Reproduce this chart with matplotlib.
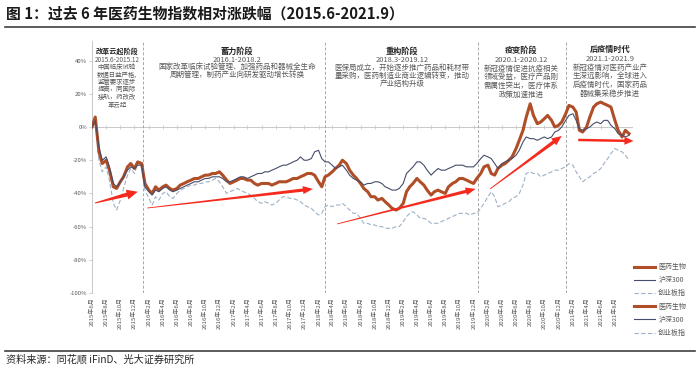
import numpy as np
import pandas as pd
import matplotlib
matplotlib.use('Agg')
import matplotlib.pyplot as plt
from matplotlib.lines import Line2D
from matplotlib.patches import Polygon
from matplotlib.transforms import IdentityTransform
from matplotlib.dates import date2num

plt.rcParams['font.family'] = ['Noto Sans CJK SC', 'DejaVu Sans']
plt.rcParams['axes.unicode_minus'] = False

# ---------------- data (semi-monthly, % change since 2015-06) ----------------
dates = pd.date_range('2015-06-01', '2021-10-01', freq='SMS')

yiyao = [0, 6, -15, -22, -20, -26, -36, -37, -33, -30, -24, -22, -25, -21, -22, -34, -38, -40, -36, -38, -36, -35, -37, -38, -37,
         -35, -34, -33, -32, -31, -31, -30, -29, -29, -28, -28, -27, -29, -32, -34, -33, -32, -31, -31, -32, -32, -34, -35, -34, -34,
         -34, -35, -34, -33, -33, -33, -32, -31, -31, -30, -29, -28, -28, -29, -33, -36, -30, -29, -27, -25, -23, -20, -22, -26, -29, -31,
         -34, -37, -39, -42, -42, -44, -43, -45, -47, -49, -50, -49, -46, -39, -36, -34, -31, -33, -35, -38, -41, -39, -38, -39, -40, -36, -34, -33,
         -31, -31, -32, -33, -34, -31, -28, -24, -23, -28, -29, -25, -23, -22, -20, -18, -13, -8, -2, 6, 14, 7, 2, 3, 5,
         7, 4, 0, 1, 3, 8, 13, 12, 9, -2, -3, 0, 6, 12, 14, 15, 14, 13, 12, 4, -2, -6, -2, -4]

hs300 = [0, 4, -12, -20, -18, -24, -34, -36, -33, -30, -26, -24, -25, -23, -23, -36, -39, -41, -38, -39, -37, -36, -38, -39, -38,
         -37, -36, -35, -34, -33, -33, -32, -31, -31, -30, -30, -30, -31, -33, -33, -32, -31, -30, -30, -31, -30, -29, -28, -28, -27,
         -27, -26, -25, -24, -23, -23, -22, -21, -20, -18, -20, -20, -19, -15, -14, -19, -21, -21, -23, -25, -24, -23, -26, -29, -31, -32,
         -33, -35, -34, -34, -33, -33, -34, -36, -37, -38, -38, -37, -34, -28, -26, -24, -21, -21, -23, -26, -29, -27, -25, -26, -26, -25, -24, -23,
         -23, -23, -24, -24, -24, -22, -19, -17, -18, -19, -22, -25, -22, -21, -20, -19, -17, -14, -9, -6, -7, -7, -8, -7, -6,
         -7, -6, -3, -2, 0, 4, 7, 8, 4, -1, -2, -1, 0, 2, 3, 2, 4, 4, 1, -1, -4, -5, -6, -5]

cyb = [0, 5, -20, -27, -24, -32, -46, -50, -44, -37, -29, -25, -28, -22, -23, -38, -43, -47, -42, -44, -40, -39, -42, -43, -40,
       -38, -37, -36, -35, -35, -34, -34, -33, -33, -32, -31, -33, -36, -40, -39, -38, -37, -38, -39, -40, -41, -43, -45, -46, -45,
       -46, -47, -46, -44, -42, -42, -43, -43, -44, -45, -47, -48, -49, -51, -53, -52, -48, -47, -48, -47, -47, -46, -48, -50, -52, -52,
       -55, -58, -58, -59, -59, -60, -60, -61, -61, -61, -60, -60, -57, -54, -52, -51, -53, -55, -55, -56, -58, -58, -58, -57, -56, -55, -54, -53,
       -52, -52, -52, -53, -52, -52, -49, -46, -42, -39, -42, -48, -47, -46, -45, -43, -42, -40, -35, -28, -27, -28, -28, -30, -29,
       -28, -27, -26, -26, -25, -24, -22, -23, -27, -30, -33, -31, -30, -28, -27, -25, -22, -19, -16, -13, -14, -15, -17, -20]

series_names = ['医药生物', '沪深300', '创业板指']

tick_months = pd.date_range('2015-06-01', '2021-08-01', freq='2MS')
tick_labels = [f'{d.year}年{d.month}月' for d in tick_months]
ytick_vals = [-100, -80, -60, -40, -20, 0, 20, 40]
ytick_labels = [f'{v}%' for v in ytick_vals]

phase_bounds = ['2016-01-08', '2018-03-01', '2019-12-20', '2021-01-04']

phases = [
    ['改革云起阶段', '2015.6-2015.12', '中国临床试验', '数据日益严格,', '监管要求逐步', '提高，同国际', '接轨，药改改', '革云起'],
    ['蓄力阶段', '2016.1-2018.2', '国家改革临床试验管理、加强药品和器械全生命', '周期管理，制药产业向研发驱动增长转换'],
    ['重构阶段', '2018.3-2019.12', '医保局成立，开始逐步推广药品和耗材带', '量采购，医药制造业商业逻辑转变，推动', '产业结构升级'],
    ['疫变阶段', '2020.1-2020.12', '新冠疫情促进抗疫相关', '领域受益，医疗产品刚', '需属性突出，医疗体系', '政策加速推进'],
    ['后疫情时代', '2021.1-2021.9', '新冠疫情对医药产业产', '生深远影响，全球进入', '后疫情时代，国家药品', '器械集采稳步推进'],
]

# arrows: (start date, start %, end date, end %)
arrows = [
    ('2015-06-14', -45.8, '2015-12-15', -39.0),
    ('2016-01-25', -48.8, '2018-01-08', -37.3),
    ('2018-04-22', -58.4, '2019-12-10', -37.3),
    ('2020-02-10', -37.3, '2020-12-15', -5.4),
    ('2021-02-24', -7.8, '2021-10-20', -8.4),
]

# ---------------- figure ----------------
W, H = 700, 367
fig = plt.figure(figsize=(W / 100, H / 100), dpi=100)
ax_top, ax_bot, ax_l, ax_r = 40.7, 293, 92, 633
ax = fig.add_axes([ax_l / W, 1 - ax_bot / H, (ax_r - ax_l) / W, (ax_bot - ax_top) / H])

c_yy, c_hs, c_cy = '#B04E28', '#454D6B', '#9DB2C6'
ax.plot(dates, cyb, color=c_cy, lw=0.8, ls=(0, (4, 2)), zorder=2)
ax.plot(dates, yiyao, color=c_yy, lw=2.2, zorder=3, solid_joinstyle='round')
ax.plot(dates, hs300, color=c_hs, lw=0.8, zorder=4)

ax.axhline(0, color='#BFBFBF', lw=0.6, zorder=1)
ax.plot(tick_months, [0] * len(tick_months), ls='none', marker='|', ms=2.5, mew=0.5, color='#BFBFBF', zorder=1)
for d in phase_bounds:
    ax.axvline(pd.Timestamp(d), color='#A6A6A6', lw=0.7, ls=(0, (3, 2)), zorder=1)

ax.set_xlim(pd.Timestamp('2015-06-01'), pd.Timestamp('2021-10-18'))
ax.set_ylim(-100, 52)
ax.set_yticks(ytick_vals)
ax.set_yticklabels(ytick_labels)
ax.set_xticks(tick_months)
ax.set_xticklabels(tick_labels, rotation=90)
ax.tick_params(axis='x', length=0, pad=3, labelsize=4.3, labelcolor='#595959')
ax.tick_params(axis='y', length=2, width=0.5, color='#BFBFBF', pad=1.5, labelsize=4.3, labelcolor='#595959')
for s in ['top', 'right', 'bottom']:
    ax.spines[s].set_visible(False)
ax.spines['left'].set_color('#BFBFBF')
ax.spines['left'].set_linewidth(0.6)

# legend (duplicated set as in the reference)
handles = [Line2D([], [], color=c_yy, lw=2.2),
           Line2D([], [], color=c_hs, lw=0.8),
           Line2D([], [], color=c_cy, lw=0.8, ls=(0, (4, 2)))]
leg = ax.legend(handles * 2, series_names * 2, loc='upper left',
                bbox_to_anchor=(634 / W, 1 - 263 / H), bbox_transform=fig.transFigure,
                frameon=False, fontsize=5, handlelength=3.0, handletextpad=0.5,
                labelspacing=0.75, borderpad=0, borderaxespad=0)
for t in leg.get_texts():
    t.set_color('#595959')

# phase annotations
col_x = [117, 237, 402, 521, 610]
col_y0 = [51, 51, 51, 50.5, 49.5]
col_dy = [7.5, 7.6, 8.0, 8.6, 8.6]
col_fs = [4.6, 5.4, 5.4, 5.4, 5.4]
for cx, y0, dy, fs, lines in zip(col_x, col_y0, col_dy, col_fs, phases):
    for i, line in enumerate(lines):
        y = y0 + i * dy + (1.0 if i > 0 else 0)
        fig.text(cx / W, 1 - y / H, line, ha='center', va='center',
                 fontsize=fs + (0.5 if i == 0 else 0),
                 fontweight='bold' if i == 0 else 'normal',
                 color='#262626' if i == 0 else '#595959')

# red tapered arrows
def tapered_arrow(p0, p1, w0, w1, hw, hl, color='#F52A1C'):
    x0, y0 = ax.transData.transform(p0)
    x1, y1 = ax.transData.transform(p1)
    d = np.array([x1 - x0, y1 - y0])
    L = np.hypot(*d)
    u = d / L
    n = np.array([-u[1], u[0]])
    s = np.array([x0, y0])
    e = np.array([x1, y1])
    b = e - u * hl
    pts = [s + n * w0 / 2, b + n * w1 / 2, b + n * hw / 2, e, b - n * hw / 2, b - n * w1 / 2, s - n * w0 / 2]
    poly = Polygon(pts, closed=True, transform=IdentityTransform(), facecolor=color,
                   edgecolor='none', zorder=10)
    fig.add_artist(poly)

arrow_style = [(1.0, 4.0, 10, 11), (0.8, 3.2, 8, 10), (0.8, 3.2, 8, 10), (0.8, 3.5, 8.5, 10), (2.5, 2.5, 8, 9)]
for (d0, v0, d1, v1), (w0, w1, hw, hl) in zip(arrows, arrow_style):
    tapered_arrow((date2num(pd.Timestamp(d0)), v0), (date2num(pd.Timestamp(d1)), v1), w0, w1, hw, hl)

# title, rules, source
fig.text(6 / W, 1 - 14 / H, '图 1：过去 6 年医药生物指数相对涨跌幅（2015.6-2021.9）',
         fontsize=10.7, fontweight='bold', color='#1a1a1a', ha='left', va='center')
fig.add_artist(Line2D([5 / W, 695 / W], [1 - 27 / H, 1 - 27 / H], color='#404040', lw=1.2, transform=fig.transFigure))
fig.add_artist(Line2D([5 / W, 695 / W], [1 - 350.5 / H, 1 - 350.5 / H], color='#404040', lw=1.2, transform=fig.transFigure))
fig.text(6 / W, 1 - 359 / H, '资料来源：同花顺 iFinD、光大证券研究所', fontsize=7.3, color='#262626',
         ha='left', va='center')

fig.savefig('out.png', dpi=100)
